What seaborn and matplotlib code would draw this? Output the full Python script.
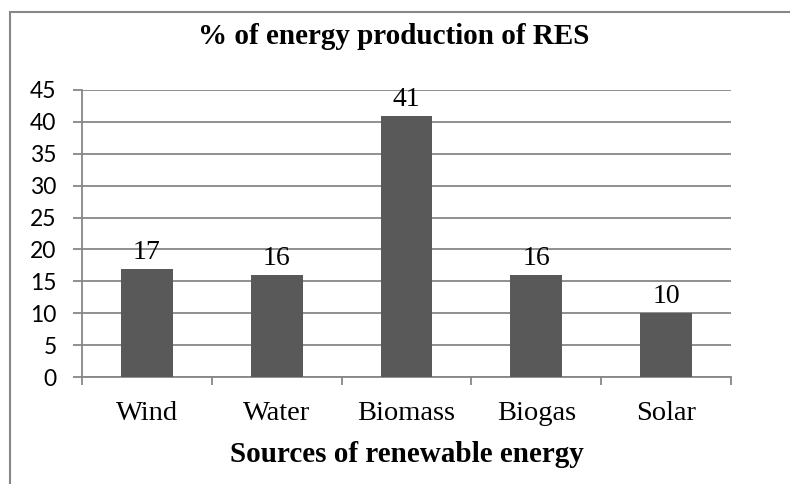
import matplotlib
matplotlib.use("Agg")
import matplotlib.pyplot as plt
import matplotlib.patches as mpatches
import seaborn as sns
import pandas as pd

categories = ["Wind", "Water", "Biomass", "Biogas", "Solar"]
values = [17, 16, 41, 16, 10]
yticks = [0, 5, 10, 15, 20, 25, 30, 35, 40, 45]
title = "% of energy production of RES"
xlabel = "Sources of renewable energy"

sns.set_theme(style="white")
plt.rcParams['font.family'] = ['Liberation Serif', 'DejaVu Serif']

df = pd.DataFrame({"source": categories, "pct": values})

fig = plt.figure(figsize=(7.9, 4.84), dpi=100)
ax = fig.add_axes([82/790, 1-377/484, (731-82)/790, (377-90)/484])

sns.barplot(data=df, x="source", y="pct", color="#595959", saturation=1,
            width=0.4, ax=ax, zorder=3, linewidth=0)

ax.set_ylim(0, 45)
ax.set_xlim(-0.5, len(categories) - 0.5)
ax.set_yticks(yticks)
ax.set_yticklabels([str(v) for v in yticks], family=["Lato", "DejaVu Sans"],
                   fontsize=16.5, color="black")
ax.yaxis.grid(True, color="#878787", linewidth=1.3, zorder=0)
ax.set_axisbelow(True)

for s in ["top", "right"]:
    ax.spines[s].set_visible(False)
for s in ["left", "bottom"]:
    ax.spines[s].set_color("#878787")
    ax.spines[s].set_linewidth(1.3)

ax.tick_params(axis="y", left=True, length=6.3, width=1.3, color="#878787", pad=12)
ax.set_xticks(range(len(categories)))
ax.set_xticklabels(categories, fontsize=20.5, color="black")
ax.set_xticks([i - 0.5 for i in range(len(categories) + 1)], minor=True)
ax.tick_params(axis="x", which="major", bottom=False, length=0, pad=17)
ax.tick_params(axis="x", which="minor", bottom=True, length=6, width=1.3, color="#878787")

for i, v in enumerate(values):
    ax.text(i, v + 0.6, str(v), ha="center", va="bottom", fontsize=20, color="black")

ax.set_xlabel(xlabel, fontsize=21, fontweight="bold", labelpad=11, color="black")
ax.set_ylabel("")
fig.text(0.498, 1 - 36/484, title, ha="center", va="center",
         fontsize=21, fontweight="bold", color="black")

border = mpatches.Rectangle((10/790, -0.1), 1.2, 1 - 12/484 + 0.1, transform=fig.transFigure,
                            fill=False, edgecolor="#878787", linewidth=1.5)
fig.patches.append(border)

fig.savefig("out.png", dpi=100)
